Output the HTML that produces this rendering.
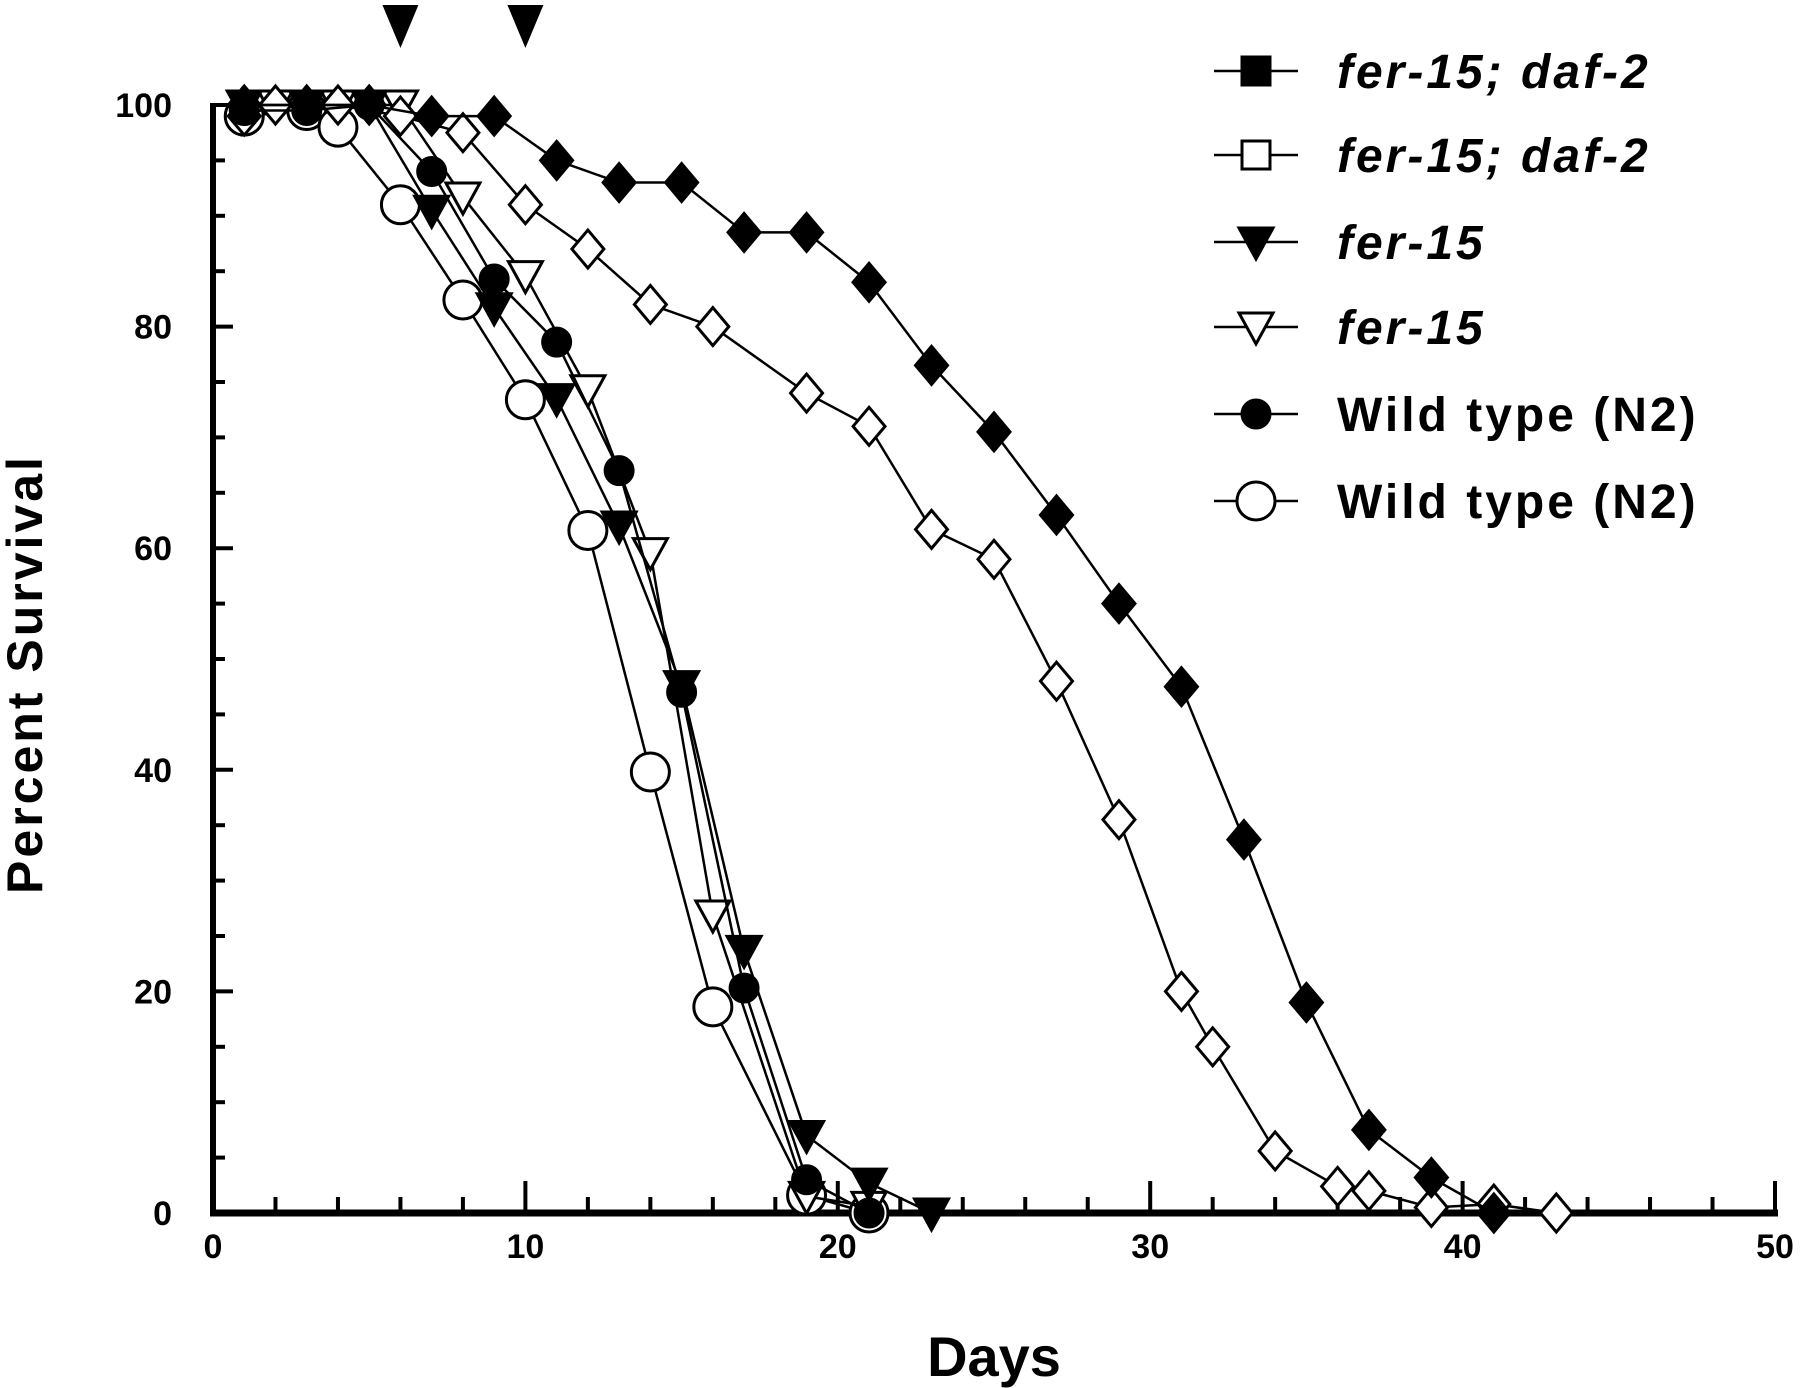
<!DOCTYPE html>
<html><head><meta charset="utf-8"><style>
html,body{margin:0;padding:0;background:#fff;}
svg{display:block;}
text{font-family:"Liberation Sans",Arial,sans-serif;font-weight:bold;fill:#000;}
</style></head><body>
<svg id="chart" width="1800" height="1388" viewBox="0 0 1800 1388" xmlns="http://www.w3.org/2000/svg">
<g id="axes"></g>
<g id="series"></g>
<g id="legend"></g>
<text x="994" y="1376" font-size="56" text-anchor="middle">Days</text>
<text x="0" y="0" font-size="50" letter-spacing="3" text-anchor="middle" transform="translate(42,674) rotate(-90)">Percent Survival</text>
</svg>
<script>
const xTicks=[0,10,20,30,40,50];
const yTicks=[0,20,40,60,80,100];
const arrowDays=[6,10];
const fdDays=[1,3,5,7,9,11,13,15,17,19,21,23,25,27,29,31,33,35,37,39,41];
const fdVals=[100,100,100,99,99,95,93,93,88.5,88.5,84,76.5,70.5,63,55,47.5,33.7,19,7.5,3.2,0];
const odDays=[1,2,4,6,8,10,12,14,16,19,21,23,25,27,29,31,32,34,36,37,39,41,43];
const odVals=[99,100,100,99,97.5,91,87,82,80,74,71,61.7,59,48,35.5,20,15,5.6,2.4,2,0.5,0.8,0];
const ftDays=[1,3,5,7,9,11,13,15,17,19,21,23];
const ftVals=[100,100,100,90.5,81.7,73.5,62,47.6,23.7,7,2.7,0];
const otDays=[2,4,6,8,10,12,14,16,19,21];
const otVals=[100,100,100,91.7,84.6,74.3,59.6,26.9,1.5,0.6];
const fcDays=[1,3,5,7,9,11,13,15,17,19,21];
const fcVals=[99.5,99.5,100,94,84.3,78.6,67,47,20.3,3,0];
const ocDays=[1,3,4,6,8,10,12,14,16,19,21];
const ocVals=[99,99.5,98,91,82.4,73.4,61.6,39.8,18.6,1.6,0];
const legendLabels=["fer-15; daf-2","fer-15; daf-2","fer-15","fer-15","Wild type (N2)","Wild type (N2)"];

const NS="http://www.w3.org/2000/svg";
const X0=213,X1=1775,Y0=1213,Y1=105;
function sx(d){return X0+(d/50)*(X1-X0);}
function sy(v){return Y0-(v/100)*(Y0-Y1);}
function mk(tag,attrs,parent){const e=document.createElementNS(NS,tag);for(const k in attrs)e.setAttribute(k,attrs[k]);parent.appendChild(e);return e;}
const axes=document.getElementById('axes');
let e;
e=mk('line',{x1:X0,y1:Y1-2,x2:X0,y2:Y0+3,stroke:'#000','stroke-width':6},axes);


e=mk('line',{x1:X0-3,y1:Y0,x2:X1+3,y2:Y0,stroke:'#000','stroke-width':7},axes);


for(let d=0;d<=50;d+=2){
  const major=d%10===0;
  e=mk('line',{x1:sx(d),y1:Y0,x2:sx(d),y2:Y0-(major?32:16),stroke:'#000','stroke-width':4},axes);
  
  
}
for(let v=0;v<=100;v+=5){
  const major=v%20===0;
  e=mk('line',{x1:X0,y1:sy(v),x2:X0+(major?20:12),y2:sy(v),stroke:'#000','stroke-width':4},axes);
  
  
}
xTicks.forEach(t=>{
  e=mk('text',{x:sx(t),y:1258,'font-size':34,'text-anchor':'middle'},axes);e.textContent=t;
  
  
});
yTicks.forEach(t=>{
  e=mk('text',{x:172,y:sy(t)+12,'font-size':34,'text-anchor':'end'},axes);e.textContent=t;
  
  
});
arrowDays.forEach(d=>{
  const x=sx(d);
  e=mk('polygon',{points:`${x-18},5 ${x+18},5 ${x},48`,fill:'#000'},axes);
  
  
});

function marker(g,type,x,y,filled){
  const fill=filled?'#000':'#fff';
  const sw=3;
  if(type==='diamond') return mk('polygon',{points:`${x},${y-19} ${x+16},${y} ${x},${y+19} ${x-16},${y}`,fill,stroke:'#000','stroke-width':sw},g);
  if(type==='square') return mk('rect',{x:x-14,y:y-14,width:28,height:28,fill,stroke:'#000','stroke-width':sw},g);
  if(type==='tri') return mk('polygon',{points:`${x-17},${y-14} ${x+17},${y-14} ${x},${y+17}`,fill,stroke:'#000','stroke-width':sw},g);
  if(type==='circle') return mk('circle',{cx:x,cy:y,r:filled?14:19,fill,stroke:'#000','stroke-width':sw},g);
}
const series=[
 {name:'open-circle-series',days:ocDays,vals:ocVals,type:'circle',filled:false},
 {name:'open-triangle-series',days:otDays,vals:otVals,type:'tri',filled:false},
 {name:'open-diamond-series',days:odDays,vals:odVals,type:'diamond',filled:false},
 {name:'filled-circle-series',days:fcDays,vals:fcVals,type:'circle',filled:true},
 {name:'filled-triangle-series',days:ftDays,vals:ftVals,type:'tri',filled:true},
 {name:'filled-diamond-series',days:fdDays,vals:fdVals,type:'diamond',filled:true},
];
const sg=document.getElementById('series');
series.forEach(s=>{
  const g=mk('g',{},sg);
  
  
  const pts=s.days.map((d,i)=>sx(d)+','+sy(s.vals[i])).join(' ');
  const pl=mk('polyline',{points:pts,fill:'none',stroke:'#000','stroke-width':2.5},g);
  
  
  s.days.forEach((d,i)=>{
    const m=marker(g,s.type,sx(d),sy(s.vals[i]),s.filled);
    
    
  });
});
const lg=document.getElementById('legend');
const lTypes=['square','square','tri','tri','circle','circle'];
const lFilled=[true,false,true,false,true,false];
const lY=[71,155,242,327,414,501];
legendLabels.forEach((lab,i)=>{
  const g=mk('g',{},lg);
  
  
  const y=lY[i];
  mk('line',{x1:1214,y1:y,x2:1298,y2:y,stroke:'#000','stroke-width':2.5},g);
  marker(g,lTypes[i],1256,y,lFilled[i]);
  const t=mk('text',{x:1337,y:y+17,'font-size':48},g);
  if(i<4)t.setAttribute('font-style','italic');
  t.setAttribute('letter-spacing','3');
  t.textContent=lab;
});
</script>
</body></html>
